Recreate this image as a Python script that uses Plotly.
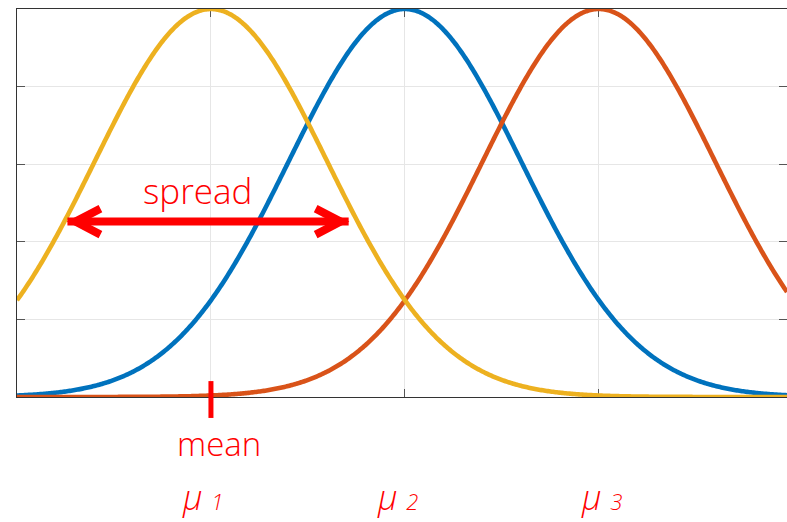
import numpy as np
import plotly.graph_objects as go

# ---- data ----
means = [1.0, 2.0, 3.0]
sigma = 0.6
curve_colors = ["#EDB120", "#0072BD", "#D95319"]   # mu1 yellow, mu2 blue, mu3 red
draw_order = [1, 2, 0]                               # blue, red, yellow
x_range = [0.0, 3.97]
n_samples = 600

spread_start = 0.26
spread_end = 1.71
spread_level = 0.452

mean_tick_low = -0.054
mean_tick_high = 0.041

mu_index = ["1", "2", "3"]
mu_label_shift = [-8, -7, 3]

RED = "#FF0000"
FONT = "Open Sans"

x = np.linspace(x_range[0], x_range[1], n_samples)

fig = go.Figure()
for i in draw_order:
    y = np.exp(-((x - means[i]) ** 2) / (2 * sigma ** 2))
    fig.add_trace(go.Scatter(x=x, y=y, mode="lines",
                             line=dict(color=curve_colors[i], width=4.6, simplify=False),
                             hoverinfo="skip", showlegend=False))

# mean tick mark crossing the axis
fig.add_shape(type="line", xref="x", yref="paper",
              x0=means[0], x1=means[0], y0=mean_tick_low, y1=mean_tick_high,
              line=dict(color=RED, width=5))

# spread arrow shaft
fig.add_shape(type="line", xref="x", yref="y",
              x0=spread_start, x1=spread_end, y0=spread_level, y1=spread_level,
              line=dict(color=RED, width=8))
# arrow heads (pixel-sized chevrons anchored at the tips)
fig.add_shape(type="path", xref="x", yref="y", xsizemode="pixel", ysizemode="pixel",
              xanchor=spread_start, yanchor=spread_level,
              path="M 33,13 L 8,0 L 33,-13", line=dict(color=RED, width=8))
fig.add_shape(type="path", xref="x", yref="y", xsizemode="pixel", ysizemode="pixel",
              xanchor=spread_end, yanchor=spread_level,
              path="M -33,13 L -8,0 L -33,-13", line=dict(color=RED, width=8))

annotations = [
    dict(x=0.933, y=0.531, xref="x", yref="paper", text="spread", showarrow=False,
         font=dict(family=FONT, size=35, color=RED, weight=300),
         xanchor="center", yanchor="middle"),
    dict(x=1.039, y=-0.121, xref="x", yref="paper", text="mean", showarrow=False,
         font=dict(family=FONT, size=33, color=RED, weight=300),
         xanchor="center", yanchor="middle"),
]
for m, idx, sh in zip(means, mu_index, mu_label_shift):
    lab = "<i>μ <span style='font-size:22px'>" + idx + "</span></i>"
    annotations.append(dict(x=m, y=-0.259, xref="x", yref="paper", text=lab, showarrow=False,
                            xshift=sh,
                            font=dict(family=FONT, size=34, color=RED, weight=300),
                            xanchor="center", yanchor="middle"))

axis_common = dict(showgrid=True, gridcolor="#E6E6E6", gridwidth=1,
                   showline=True, linecolor="#333333", linewidth=1,
                   mirror="ticks", ticks="inside", ticklen=8, tickcolor="#555555",
                   showticklabels=False, zeroline=False, layer="below traces")

fig.update_layout(
    width=787, height=522,
    margin=dict(l=17, r=0, t=9, b=125),
    paper_bgcolor="white", plot_bgcolor="white",
    xaxis=dict(range=x_range, tickvals=means, **axis_common),
    yaxis=dict(range=[0, 1], tickvals=[0, 0.2, 0.4, 0.6, 0.8, 1.0], **axis_common),
    annotations=annotations,
    showlegend=False,
)

fig.write_html(
    "out.html",
    config={"responsive": False, "displayModeBar": False},
    post_script="document.body.style.margin='0';document.body.style.overflow='hidden';"
                "document.documentElement.style.overflow='hidden';",
)
